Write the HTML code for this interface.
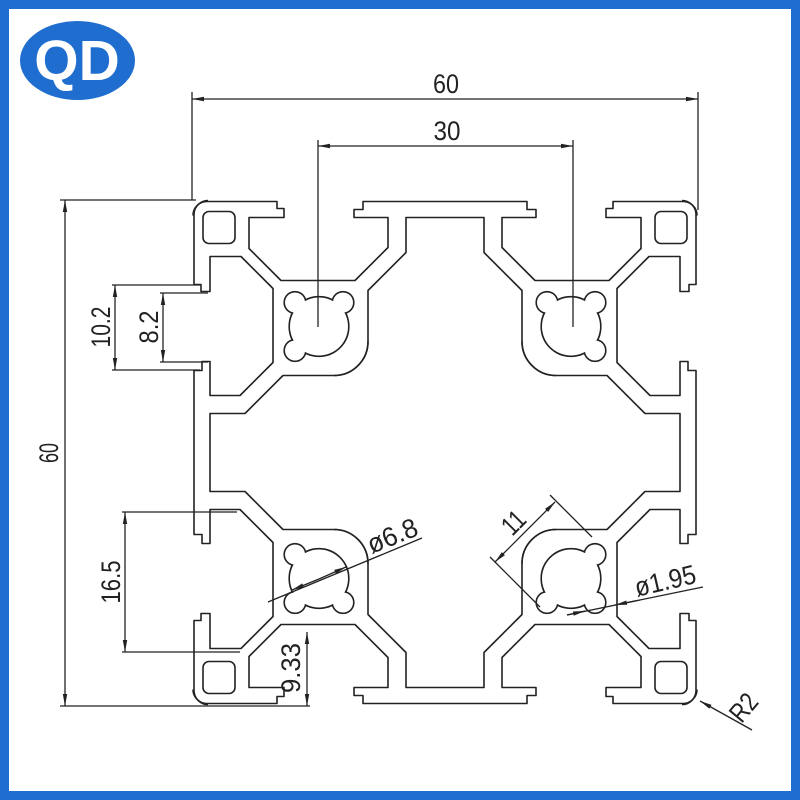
<!DOCTYPE html>
<html><head><meta charset="utf-8"><style>
html,body{margin:0;padding:0;background:#fff}
.f{position:absolute;left:0;top:0;width:782px;height:782px;border:9px solid #1f6ecf}
svg{position:absolute;left:0;top:0}
text{font-family:"Liberation Sans",sans-serif;fill:#222}
</style></head><body>
<div class="f"></div>
<svg width="800" height="800" viewBox="0 0 800 800">
<defs>
<marker id="a" viewBox="0 0 12 6" refX="12" refY="3" markerWidth="12" markerHeight="6" orient="auto-start-reverse" markerUnits="userSpaceOnUse"><path d="M0,0.8 L12,3 L0,5.2z" fill="#222"/></marker>
<g id="oct" fill="none" stroke="#222" stroke-width="1.6" stroke-linejoin="round">
<path d="M0,-251 L-82,-251 L-82,-243 L-91,-243 L-91,-235 L-57,-235 L-57,-205 L-90,-172 L-164,-172 L-196,-204 L-196,-235 L-161,-235 L-161,-244 L-168,-244 L-168,-251 L-238,-251 A14,14 0 0 0 -252,-237"/>
<path d="M0,-235 L-39,-235 L-39,-200 L-77,-162 L-77,-111 A34,34 0 0 1 -111,-77"/>
</g>
<g id="quad">
<use href="#oct"/>
<use href="#oct" transform="matrix(0,1,1,0,0,0)"/>
<rect x="-242" y="-241" width="32" height="32" rx="6" fill="none" stroke="#222" stroke-width="1.6"/>
<g stroke="#222" stroke-width="3.2">
<circle cx="-126" cy="-126" r="29"/>
<circle cx="-150" cy="-150" r="10"/>
<circle cx="-102" cy="-150" r="10"/>
<circle cx="-150" cy="-102" r="10"/>
</g>
<g fill="#fff">
<circle cx="-126" cy="-126" r="29"/>
<circle cx="-150" cy="-150" r="10"/>
<circle cx="-102" cy="-150" r="10"/>
<circle cx="-150" cy="-102" r="10"/>
</g>
</g>
</defs>
<ellipse cx="77.5" cy="60.5" rx="57.5" ry="39.5" fill="#1f6ecf"/>
<text x="77" y="80" text-anchor="middle" font-size="57" font-weight="bold" style="fill:#fff">QD</text>

<g transform="translate(445,452.5)">
<use href="#quad"/>
<use href="#quad" transform="scale(-1,1)"/>
<use href="#quad" transform="scale(1,-1)"/>
<use href="#quad" transform="scale(-1,-1)"/>
</g>

<g stroke="#222" stroke-width="1.3" fill="none">
<line x1="192" y1="92" x2="192" y2="200"/><line x1="698" y1="92" x2="698" y2="210"/>
<line x1="192" y1="99" x2="698" y2="99" marker-start="url(#a)" marker-end="url(#a)"/>
<line x1="318" y1="140" x2="318" y2="327"/><line x1="573" y1="140" x2="573" y2="327"/>
<line x1="318" y1="146" x2="573" y2="146" marker-start="url(#a)" marker-end="url(#a)"/>
<line x1="60" y1="200" x2="196" y2="200"/><line x1="60" y1="706" x2="310" y2="706"/>
<line x1="65" y1="200" x2="65" y2="706" marker-start="url(#a)" marker-end="url(#a)"/>
<line x1="112" y1="285" x2="200" y2="285"/><line x1="112" y1="370" x2="200" y2="370"/>
<line x1="115" y1="285" x2="115" y2="370" marker-start="url(#a)" marker-end="url(#a)"/>
<line x1="160" y1="293" x2="208" y2="293"/><line x1="160" y1="362" x2="208" y2="362"/>
<line x1="163" y1="293" x2="163" y2="362" marker-start="url(#a)" marker-end="url(#a)"/>
<line x1="122" y1="512" x2="237" y2="512"/><line x1="122" y1="652" x2="240" y2="652"/>
<line x1="125" y1="512" x2="125" y2="652" marker-start="url(#a)" marker-end="url(#a)"/>
<line x1="307" y1="632" x2="307" y2="706" marker-start="url(#a)" marker-end="url(#a)"/>
<line x1="268" y1="602" x2="422" y2="538"/>
<line x1="319" y1="579" x2="292" y2="590" marker-end="url(#a)"/>
<line x1="319" y1="579" x2="346" y2="567" marker-end="url(#a)"/>
<line x1="490" y1="557" x2="540" y2="607"/><line x1="550" y1="495" x2="592" y2="537"/>
<line x1="495" y1="562" x2="555" y2="502" marker-start="url(#a)" marker-end="url(#a)"/>
<line x1="567" y1="615" x2="703" y2="587"/>
<line x1="567" y1="615" x2="585" y2="611" marker-end="url(#a)"/>
<line x1="640" y1="600" x2="615" y2="605" marker-end="url(#a)"/>
<line x1="752" y1="730" x2="700" y2="701" marker-end="url(#a)"/>
</g>

<g font-size="27">
<text x="446" y="93" text-anchor="middle" textLength="26" lengthAdjust="spacingAndGlyphs">60</text>
<text x="447" y="140" text-anchor="middle" textLength="27" lengthAdjust="spacingAndGlyphs">30</text>
<text transform="translate(58,453) rotate(-90)" text-anchor="middle" textLength="20" lengthAdjust="spacingAndGlyphs">60</text>
<text transform="translate(110,327) rotate(-90)" text-anchor="middle" textLength="41" lengthAdjust="spacingAndGlyphs">10.2</text>
<text transform="translate(158,327) rotate(-90)" text-anchor="middle" textLength="33" lengthAdjust="spacingAndGlyphs">8.2</text>
<text transform="translate(120,582) rotate(-90)" text-anchor="middle" textLength="43" lengthAdjust="spacingAndGlyphs">16.5</text>
<text transform="translate(300,668) rotate(-90)" text-anchor="middle" textLength="50" lengthAdjust="spacingAndGlyphs">9.33</text>
<text transform="translate(392,535) rotate(-22)" x="0" y="10" text-anchor="middle" textLength="52" lengthAdjust="spacingAndGlyphs">ø6.8</text>
<text transform="translate(513,522) rotate(-45)" x="0" y="10" text-anchor="middle" textLength="22" lengthAdjust="spacingAndGlyphs">11</text>
<text transform="translate(665,580) rotate(-13)" x="0" y="10" text-anchor="middle" textLength="62" lengthAdjust="spacingAndGlyphs">ø1.95</text>
<text transform="translate(743,707) rotate(-50)" x="0" y="10" text-anchor="middle" textLength="28" lengthAdjust="spacingAndGlyphs">R2</text>
</g>
</svg>
</body></html>
